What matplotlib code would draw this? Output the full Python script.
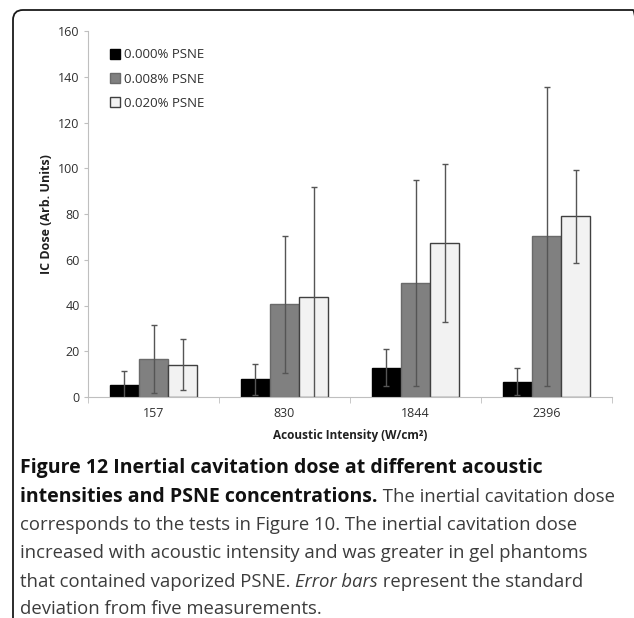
import numpy as np
import matplotlib
matplotlib.use("Agg")
import matplotlib.pyplot as plt
from matplotlib.patches import FancyBboxPatch
from matplotlib.transforms import IdentityTransform

# ---------- Data ----------
intensities = ["157", "830", "1844", "2396"]
series_names = ["0.000% PSNE", "0.008% PSNE", "0.020% PSNE"]
dose_000 = [5.2, 7.7, 12.8, 6.6]
dose_008 = [16.5, 40.5, 49.8, 70.2]
dose_020 = [14.2, 43.6, 67.3, 79.0]
sd_000 = [6.3, 6.7, 8.0, 5.9]
sd_008 = [14.8, 30.0, 44.9, 65.3]
sd_020 = [11.3, 48.4, 34.7, 20.3]

colors = ["#000000", "#808080", "#f2f2f2"]
edges = ["#000000", "#6a6a6a", "#404040"]

W, H = 634, 618
plt.rcParams["font.family"] = ["Open Sans", "DejaVu Sans"]

fig = plt.figure(figsize=(W / 100, H / 100), dpi=100)
ax = fig.add_axes([88 / W, (H - 397) / H, 524 / W, 366 / H])

x = np.arange(len(intensities))
bw = 0.222
for i, (vals, sds) in enumerate([(dose_000, sd_000), (dose_008, sd_008), (dose_020, sd_020)]):
    pos = x + (i - 1) * bw
    ax.bar(pos, vals, width=bw, color=colors[i], edgecolor=edges[i], linewidth=1.0,
           label=series_names[i], zorder=2)
    ax.errorbar(pos, vals, yerr=sds, fmt="none", ecolor="#555555", elinewidth=1.0,
                capsize=2, capthick=1.0, zorder=3)

ax.set_xlim(-0.5, len(intensities) - 0.5)
ax.set_ylim(0, 160)
ax.set_yticks(np.arange(0, 161, 20))
ax.set_xticks(x)
ax.set_xticklabels(intensities)
ax.set_xticks(np.arange(-0.5, len(intensities)), minor=True)
ax.tick_params(axis="x", which="major", length=0, pad=7, labelsize=9, labelcolor="#303030")
ax.tick_params(axis="x", which="minor", length=4, color="#bfbfbf", direction="out")
ax.tick_params(axis="y", length=3, color="#bfbfbf", labelsize=9, labelcolor="#303030", pad=3)
for s in ["top", "right"]:
    ax.spines[s].set_visible(False)
ax.spines["left"].set_color("#bfbfbf")
ax.spines["bottom"].set_color("#bfbfbf")

ax.set_ylabel("IC Dose (Arb. Units)", fontsize=9, fontweight="bold", color="#202020", labelpad=4)
ax.set_xlabel("Acoustic Intensity (W/cm²)", fontsize=8.5, fontweight="bold", color="#202020", labelpad=7)

ax.legend(loc="upper left", bbox_to_anchor=(0.02, 0.985), frameon=False, fontsize=9.5,
          handlelength=0.75, handleheight=0.75, handletextpad=0.3, labelspacing=0.85,
          labelcolor="#303030")

# ---------- Caption ----------
lines = [
    [("Figure 12 Inertial cavitation dose at different acoustic", "bold", "normal")],
    [("intensities and PSNE concentrations.", "bold", "normal"),
     (" The inertial cavitation dose", "normal", "normal")],
    [("corresponds to the tests in Figure 10. The inertial cavitation dose", "normal", "normal")],
    [("increased with acoustic intensity and was greater in gel phantoms", "normal", "normal")],
    [("that contained vaporized PSNE. ", "normal", "normal"), ("Error bars", "normal", "italic"),
     (" represent the standard", "normal", "normal")],
    [("deviation from five measurements.", "normal", "normal")],
]
baselines = [473, 502, 530, 558, 587, 614]
renderer = fig.canvas.get_renderer()
for segs, yb in zip(lines, baselines):
    xp = 20
    for txt, wt, st in segs:
        fs = 14.0 if wt == "bold" else 13.3
        t = fig.text(xp / W, (H - yb) / H, txt, fontsize=fs, fontweight=wt, fontstyle=st,
                     color="#111111" if wt == "bold" else "#3c3c3c", va="baseline", ha="left")
        xp += t.get_window_extent(renderer).width

# ---------- Border ----------
border = FancyBboxPatch((13, -40), 630, H - 10 + 40, boxstyle="round,pad=0,rounding_size=10",
                        transform=IdentityTransform(), fill=False, edgecolor="#1a1a1a",
                        linewidth=1.3)
fig.add_artist(border)

fig.savefig("out.png", dpi=100)
